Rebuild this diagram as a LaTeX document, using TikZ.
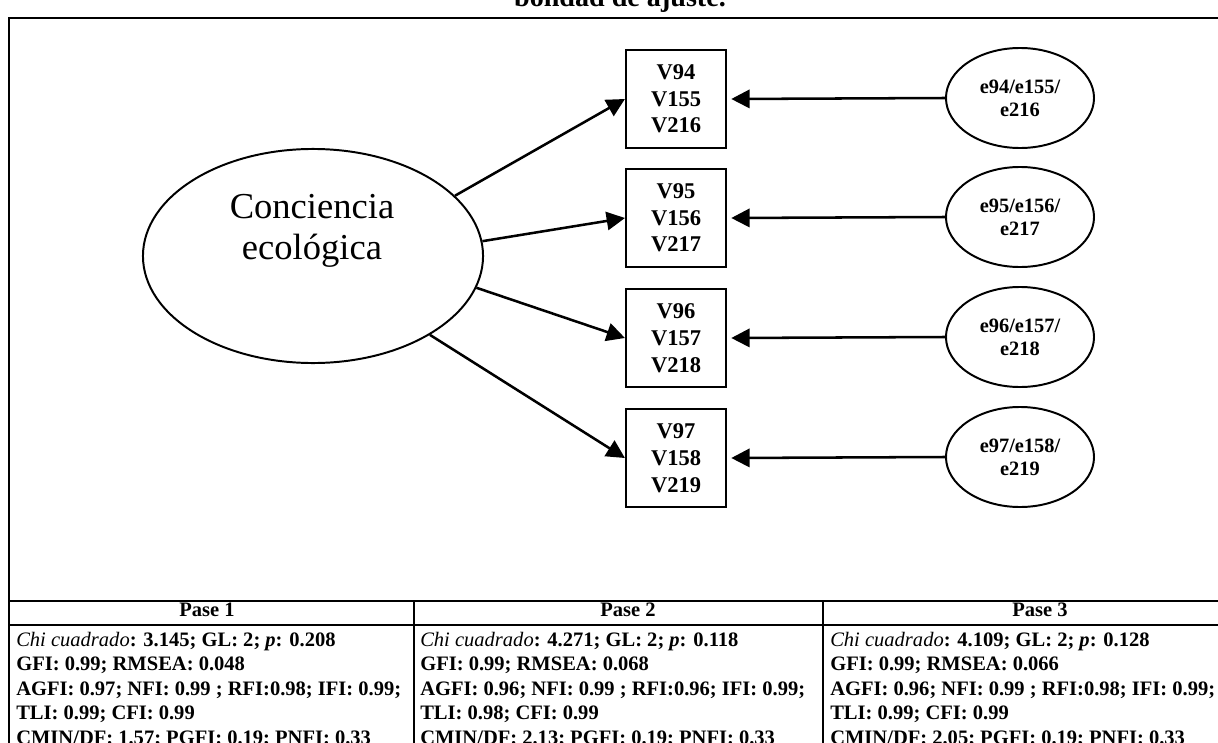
\documentclass[tikz,border=0pt]{standalone}
\usepackage{fontspec}
\setmainfont{Liberation Serif}
\usetikzlibrary{arrows.meta,shapes.geometric}
\begin{document}
\begin{tikzpicture}[x=0.025cm,y=-0.025cm,
  frame/.style={line width=1.3pt},
  latent/.style={draw, ellipse, line width=1.4pt, minimum width=8.5cm, minimum height=5.35cm, inner sep=0pt},
  bigtxt/.style={align=center, font=\fontsize{26}{29}\selectfont},
  obsbox/.style={draw, line width=1.5pt, minimum width=2.5cm, minimum height=2.45cm, inner sep=0pt,
    align=center, font=\bfseries\fontsize{16}{19}\selectfont},
  errell/.style={draw, ellipse, line width=1.4pt, minimum width=3.7cm, minimum height=2.5cm, inner sep=0pt,
    align=center, font=\bfseries\fontsize{14.5}{16.5}\selectfont},
  load/.style={line width=1.8pt, -{Triangle[length=13pt, width=13pt]}},
  cell/.style={anchor=base west, inner sep=0pt, font=\bfseries\fontsize{14.6}{16.7}\selectfont},
  head/.style={anchor=base, inner sep=0pt, font=\bfseries\fontsize{14.6}{16.7}\selectfont}]
\useasboundingbox (0,0) rectangle (1218,743);
\clip (0,0) rectangle (1218,743);

% caption line running into the frame
\node[anchor=base, inner sep=0pt, font=\bfseries\fontsize{20}{24}\selectfont] (caption) at (620,6) {bondad de ajuste.};

% outer frame and table rules
\draw[frame] (9,760) -- (9,18) -- (1240,18);
\draw[frame] (9,601) -- (1240,601);
\draw[frame] (9,625) -- (1240,625);
\draw[frame] (414,601) -- (414,760);
\draw[frame] (823,601) -- (823,760);

% latent factor
\node[latent] (eco) at (313,256) {};
\node[bigtxt] (ecotxt) at (312,231) {Conciencia\\ecológica};

% indicators
\node[obsbox] (b1) at (676,99)  {V94\\V155\\V216};
\node[obsbox] (b2) at (676,218) {V95\\V156\\V217};
\node[obsbox] (b3) at (676,338) {V96\\V157\\V218};
\node[obsbox] (b4) at (676,458) {V97\\V158\\V219};

% error terms
\node[errell] (e1) at (1020,98)  {e94/e155/\\e216};
\node[errell] (e2) at (1020,217) {e95/e156/\\e217};
\node[errell] (e3) at (1020,337) {e96/e157/\\e218};
\node[errell] (e4) at (1020,457) {e97/e158/\\e219};

% loadings
\draw[load] (eco.23)  -- (b1.west);
\draw[load] (eco.5)   -- (b2.west);
\draw[load] (eco.-11) -- (b3.west);
\draw[load] (eco.-34) -- (b4.west);

\foreach \i in {1,2,3,4}
  \draw[load] (e\i.west) -- ([xshift=3pt]b\i.east);

% fit indices
\node[head] (h1) at (207,616)  {Pase 1};
\node[head] (h2) at (628,616)  {Pase 2};
\node[head] (h3) at (1040,616) {Pase 3};

\node[cell] (a1) at (16,646)  {\textit{\mdseries Chi cuadrado}: 3.145; GL: 2; \textit{p}: 0.208};
\node[cell] (a2) at (16,670.5) {GFI: 0.99; RMSEA: 0.048};
\node[cell] (a3) at (16,695)  {AGFI: 0.97; NFI: 0.99 ; RFI:0.98; IFI: 0.99;};
\node[cell] (a4) at (16,719.5) {TLI: 0.99; CFI: 0.99};
\node[cell] (a5) at (16,744)  {CMIN/DF: 1.57; PGFI: 0.19; PNFI: 0.33};

\node[cell] (c1) at (420,646)  {\textit{\mdseries Chi cuadrado}: 4.271; GL: 2; \textit{p}: 0.118};
\node[cell] (c2) at (420,670.5) {GFI: 0.99; RMSEA: 0.068};
\node[cell] (c3) at (420,695)  {AGFI: 0.96; NFI: 0.99 ; RFI:0.96; IFI: 0.99;};
\node[cell] (c4) at (420,719.5) {TLI: 0.98; CFI: 0.99};
\node[cell] (c5) at (420,744)  {CMIN/DF: 2.13; PGFI: 0.19; PNFI: 0.33};

\node[cell] (d1) at (830,646)  {\textit{\mdseries Chi cuadrado}: 4.109; GL: 2; \textit{p}: 0.128};
\node[cell] (d2) at (830,670.5) {GFI: 0.99; RMSEA: 0.066};
\node[cell] (d3) at (830,695)  {AGFI: 0.96; NFI: 0.99 ; RFI:0.98; IFI: 0.99;};
\node[cell] (d4) at (830,719.5) {TLI: 0.99; CFI: 0.99};
\node[cell] (d5) at (830,744)  {CMIN/DF: 2.05; PGFI: 0.19; PNFI: 0.33};
\end{tikzpicture}
\end{document}
